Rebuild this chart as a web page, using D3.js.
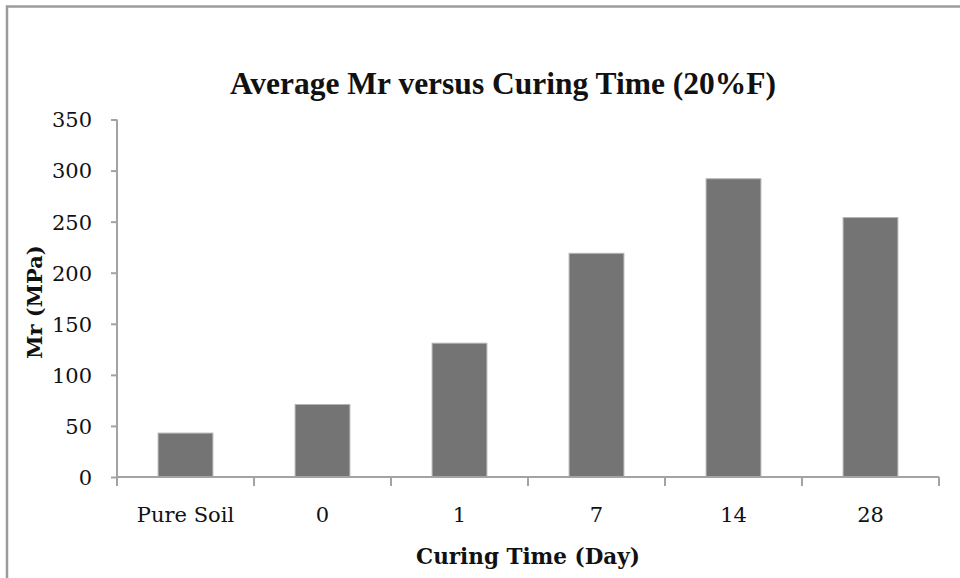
<!DOCTYPE html>
<html>
<head>
<meta charset="utf-8">
<script src="https://cdn.jsdelivr.net/npm/d3@7"></script>
<style>
html,body{margin:0;padding:0;background:#fff;}
svg{display:block;}
</style>
</head>
<body>
<svg id="chart" width="960" height="578"></svg>
<script>
const categories = ["Pure Soil", "0", "1", "7", "14", "28"];
const values = [43, 71, 131, 219, 292, 254];
const yTicks = [0, 50, 100, 150, 200, 250, 300, 350];
const title = "Average Mr versus Curing Time (20%F)";
const xTitle = "Curing Time (Day)";
const yTitle = "Mr (MPa)";

(function () {
const svg = d3.select("#chart");
const pLeft = 117, pRight = 939, pTop = 119.5, pBottom = 477;
const axisColor = "#a3a3a3";

// frame
svg.append("path")
  .attr("d", "M7,580 L7,6.5 L962,6.5")
  .attr("fill", "none").attr("stroke", "#9c9c9c").attr("stroke-width", 2.5);

const x = d3.scaleBand().domain(categories).range([pLeft, pRight]).paddingInner(0.6).paddingOuter(0.3);
const xb = d3.scaleBand().domain(categories).range([pLeft, pRight]).padding(0);
const y = d3.scaleLinear().domain([0, 350]).range([pBottom, pTop]);

// bars
svg.append("g").selectAll("rect").data(values).join("rect")
  .attr("x", (d, i) => x(categories[i]))
  .attr("width", x.bandwidth())
  .attr("y", d => y(d))
  .attr("height", d => pBottom - y(d))
  .attr("fill", "#747474")
  .attr("stroke", "#b5b5b5")
  .attr("stroke-width", 1);

// y axis
const yAxis = svg.append("g").attr("transform", `translate(${pLeft},0)`)
  .call(d3.axisLeft(y).tickValues(yTicks).tickSize(6).tickPadding(19).tickFormat(d3.format("d")));
yAxis.select(".domain").attr("stroke", axisColor).attr("stroke-width", 2).attr("d", `M0,${pTop}V${pBottom}`);
yAxis.selectAll(".tick line").attr("stroke", axisColor).attr("stroke-width", 2);
yAxis.selectAll(".tick text").attr("font-family", "DejaVu Serif").attr("font-size", 21).attr("fill", "#111").attr("dy", "0.35em");

// x axis with ticks at band boundaries
const xAxis = svg.append("g").attr("transform", `translate(0,${pBottom})`);
xAxis.append("line").attr("x1", pLeft).attr("x2", pRight).attr("stroke", axisColor).attr("stroke-width", 2);
const bounds = categories.map(c => xb(c)).concat([pRight]);
xAxis.selectAll("line.t").data(bounds).join("line").attr("class", "t")
  .attr("x1", d => d).attr("x2", d => d).attr("y1", 0).attr("y2", 9)
  .attr("stroke", axisColor).attr("stroke-width", 2);
xAxis.selectAll("text").data(categories).join("text")
  .attr("x", d => xb(d) + xb.bandwidth() / 2)
  .attr("y", 45)
  .attr("text-anchor", "middle")
  .attr("font-family", "DejaVu Serif").attr("font-size", 21).attr("fill", "#111")
  .text(d => d);

// titles
svg.append("text").attr("x", 503).attr("y", 94).attr("text-anchor", "middle")
  .attr("font-family", "Liberation Serif").attr("font-weight", "bold").attr("font-size", 31.5)
  .attr("fill", "#111").text(title);
svg.append("text").attr("x", 528).attr("y", 564).attr("text-anchor", "middle")
  .attr("font-family", "DejaVu Serif").attr("font-weight", "bold").attr("font-size", 21.5)
  .attr("fill", "#111").text(xTitle);
svg.append("text").attr("transform", "translate(42,302) rotate(-90)").attr("text-anchor", "middle")
  .attr("font-family", "DejaVu Serif").attr("font-weight", "bold").attr("font-size", 21)
  .attr("fill", "#111").text(yTitle);
})();
</script>
</body>
</html>
